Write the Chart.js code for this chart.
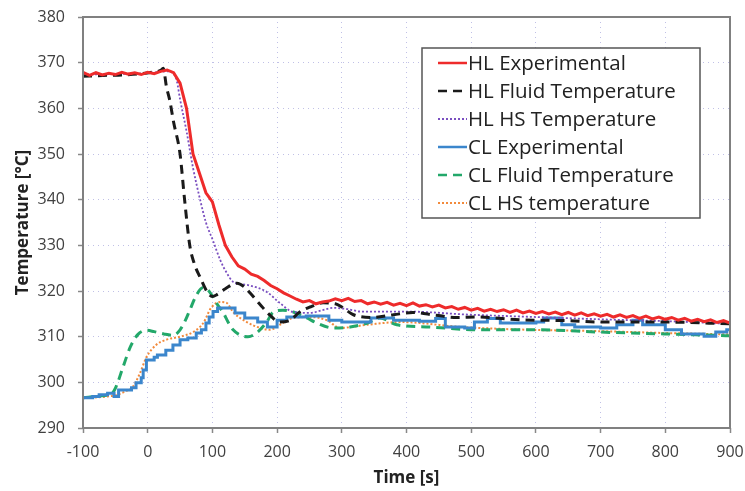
<!DOCTYPE html>
<html>
<head>
<meta charset="utf-8">
<script src="https://cdn.jsdelivr.net/npm/chart.js@4.4.0/dist/chart.umd.min.js"></script>
<style>
  body { margin: 0; background: #fff; }
  canvas { display: block; }
</style>
</head>
<body>
<canvas id="tempChart" width="745" height="491"></canvas>
<script>
// axis ranges
var timeMin = -100, timeMax = 900, timeStep = 100;
var tempMin = 290, tempMax = 380, tempStep = 10;

var seriesLabels = ["HL Experimental", "HL Fluid Temperature", "HL HS Temperature",
                    "CL Experimental", "CL Fluid Temperature", "CL HS temperature"];

// HL Experimental (noisy, read every 10 s)
var hlExpTime = [-100,-90,-80,-70,-60,-50,-40,-30,-20,-10,0,10,20,30,40,50,60,70,80,90,
  100,110,120,130,140,150,160,170,180,190,200,210,220,230,240,250,260,270,280,290,
  300,310,320,330,340,350,360,370,380,390,400,410,420,430,440,450,460,470,480,490,
  500,510,520,530,540,550,560,570,580,590,600,610,620,630,640,650,660,670,680,690,
  700,710,720,730,740,750,760,770,780,790,800,810,820,830,840,850,860,870,880,890,900];
var hlExpTemp = [367.9,367.2,367.8,367.3,367.7,367.4,367.9,367.5,367.8,367.4,367.9,367.6,368.1,368.4,367.8,365.5,360,350,345.8,341.5,
  339.5,334.5,330,327.5,325.5,324.8,323.7,323.2,322.3,321.2,320.5,319.6,318.9,318.2,317.6,317.9,317.2,317.6,317.8,318.3,
  317.9,318.4,317.7,317.9,317.2,317.6,317.1,317.5,316.9,317.3,316.8,317.4,316.7,317.0,316.5,316.9,316.3,316.6,316.0,316.4,
  315.8,316.2,315.6,316.0,315.5,315.9,315.3,315.8,315.2,315.6,315.1,315.5,315.0,315.4,314.8,315.3,314.7,315.2,314.6,315.0,
  314.5,314.9,314.3,314.8,314.2,314.6,314.0,314.5,313.9,314.3,313.8,314.2,313.6,314.0,313.4,313.8,313.3,313.7,313.1,313.5,313.0];

// HL Fluid Temperature
var hlFluidTime = [-100,-70,-40,-10,10,20,24,29,34,40,50,57,65,72,81,92,100,107,120,138,150,158,174,189,204,220,235,251,271,290,300,318,348,380,410,445,478,510,575,650,700,800,900];
var hlFluidTemp = [367,367.2,367.3,367.6,368,368.3,368.8,364.7,361.8,357,350,340,330,326,323,319.8,318.8,319.2,320.5,321.7,320.8,319.6,317,314.7,313.2,313.6,315.4,316.5,317.4,317.2,316.5,314.8,314.2,314.8,315.3,314.7,314.2,314.3,313.7,313.5,313.2,313.2,312.8];

// HL HS Temperature
var hlHsTime = [-100,-50,0,30,40,45,50,60,70,81,90,101,112,122,132,145,158,184,204,225,251,270,287,310,330,400,500,600,700,800,900];
var hlHsTemp = [367.4,367.5,367.7,368.1,367.6,366,362,355,347,340,335,331,326.8,324,322,321.5,321.2,319.8,317.4,315.4,315.2,315.8,316.3,316,315.5,315.5,314.8,314.3,313.8,313.4,312.8];

// CL Experimental (stepped)
var clExpTime = [-100,-85,-75,-62,-52,-45,-25,-18,-10,-7,-2,10,15,28,39,50,62,75,83,90,95,101,108,135,140,150,170,185,200,215,245,280,300,320,345,380,420,445,460,490,505,525,545,600,612,640,660,700,725,750,765,800,825,860,878,895,900];
var clExpTemp = [296.6,296.9,297.3,297.6,296.9,298.3,298.8,299.9,301,302.7,304.9,305.5,306,307,308.2,309.3,309.7,310.8,311.5,313,314.3,315.5,316.3,315.2,315.2,314.1,313.2,312.1,313.6,314.3,314.5,313.6,313.2,313.2,314.1,313.6,313.4,314,312.1,311.9,313.2,314,313,313.2,314.1,312.6,312.1,311.9,312.6,313.6,312.6,311.5,310.6,310.1,311,311.5,311.5];

// CL Fluid Temperature
var clFluidTime = [-100,-75,-55,-49,-38,-27,-15,-2,10,25,40,50,58,65,75,85,92,101,108,117,125,132,145,155,168,184,194,209,225,246,261,287,313,340,359,385,436,513,600,700,800,900];
var clFluidTemp = [296.6,297,297.6,299,303.4,307.7,310.5,311.4,311.1,310.6,310.3,311.5,313.5,315.8,319,320.7,320.4,318.7,317,315.2,313,311.5,310.2,310,310.8,313.2,315.4,315.8,315.4,314.1,313,311.9,312.1,313,314.1,312.6,312.1,311.5,311.5,311,310.6,310.2];

// CL HS temperature
var clHsTime = [-100,-70,-49,-35,-23,-12,-2,13,28,50,70,86,98,112,122,132,153,174,189,204,225,251,277,297,339,390,487,591,700,800,900];
var clHsTemp = [296.6,296.8,297.2,298,299,302,305.5,308.2,309.3,310,311,313,316.3,317.6,317.4,315.4,313.2,311.9,311.5,312.6,314.1,314.3,313.6,311.9,312.6,313.2,312.1,311.5,311.2,310.8,310.5];

function toPoints(times, temps) {
  var pts = [];
  for (var i = 0; i < times.length; ++i) {
    pts.push({x: times[i], y: temps[i]});
  }
  return pts;
}

var fontFamily = "'Open Sans', sans-serif";
var tickColor = "#404040";
var gridColor = "rgba(140,140,210,0.55)";

// legend box drawn inside the plot, like the original
var boxLegend = {
  id: "boxLegend",
  afterDraw: function (chart) {
    var ctx = chart.ctx;
    var x0 = 422, y0 = 48, x1 = 700, y1 = 218;
    ctx.save();
    ctx.fillStyle = "#fff";
    ctx.fillRect(x0, y0, x1 - x0, y1 - y0);
    ctx.strokeStyle = "#555";
    ctx.lineWidth = 1.5;
    ctx.strokeRect(x0, y0, x1 - x0, y1 - y0);
    ctx.font = "20.5px " + fontFamily;
    ctx.textBaseline = "middle";
    ctx.fillStyle = "#222";
    var ds = chart.data.datasets;
    for (var i = 0; i < ds.length; ++i) {
      var yy = 63 + i * 28;
      ctx.beginPath();
      ctx.setLineDash(ds[i].borderDash || []);
      ctx.strokeStyle = ds[i].borderColor;
      ctx.lineWidth = Math.min(ds[i].borderWidth, 2.5);
      ctx.moveTo(438, yy);
      ctx.lineTo(467, yy);
      ctx.stroke();
      ctx.setLineDash([]);
      ctx.fillText(ds[i].label, 468, yy + 1);
    }
    ctx.restore();
  }
};

// frame round the plot area
var plotFrame = {
  id: "plotFrame",
  afterDatasetsDraw: function (chart) {
    var a = chart.chartArea;
    var ctx = chart.ctx;
    ctx.save();
    ctx.strokeStyle = "#808080";
    ctx.lineWidth = 2;
    ctx.strokeRect(a.left, a.top, a.right - a.left, a.bottom - a.top);
    ctx.restore();
  }
};

var ctx = document.getElementById("tempChart");

var tempChart = new Chart(ctx, {
  type: "line",
  data: {
    datasets: [{
      label: seriesLabels[0],
      data: toPoints(hlExpTime, hlExpTemp),
      borderColor: "#ee2b2b",
      borderWidth: 3
    }, {
      label: seriesLabels[1],
      data: toPoints(hlFluidTime, hlFluidTemp),
      borderColor: "#1a1a1a",
      borderWidth: 3,
      borderDash: [9, 6],
      cubicInterpolationMode: "monotone"
    }, {
      label: seriesLabels[2],
      data: toPoints(hlHsTime, hlHsTemp),
      borderColor: "#7a4fc0",
      borderWidth: 1.8,
      borderDash: [2, 2],
      cubicInterpolationMode: "monotone"
    }, {
      label: seriesLabels[3],
      data: toPoints(clExpTime, clExpTemp),
      borderColor: "#3b86cc",
      borderWidth: 3,
      stepped: "before"
    }, {
      label: seriesLabels[4],
      data: toPoints(clFluidTime, clFluidTemp),
      borderColor: "#23a86a",
      borderWidth: 3,
      borderDash: [9, 6],
      cubicInterpolationMode: "monotone"
    }, {
      label: seriesLabels[5],
      data: toPoints(clHsTime, clHsTemp),
      borderColor: "#f28a3c",
      borderWidth: 2,
      borderDash: [2, 2],
      cubicInterpolationMode: "monotone"
    }]
  },
  options: {
    responsive: false,
    animation: false,
    layout: {padding: {left: 0, right: 15, top: 17, bottom: 0}},
    elements: {point: {radius: 0}},
    plugins: {legend: {display: false}, tooltip: {enabled: false}},
    scales: {
      x: {
        type: "linear",
        min: timeMin, max: timeMax,
        ticks: {stepSize: timeStep, padding: 10, color: tickColor, font: {family: fontFamily, size: 16}},
        grid: {color: gridColor, tickColor: "#888", tickLength: 5, tickWidth: 1.5, tickBorderDash: []},
        border: {display: false, dash: [1, 4]},
        title: {display: true, text: "Time [s]", color: "#222", padding: {top: 0, bottom: 3},
                font: {family: fontFamily, size: 17, weight: "bold"}},
        afterFit: function (scale) {
          scale.height = 63;
          scale.paddingLeft = 0;
          scale.paddingRight = 0;
        }
      },
      y: {
        min: tempMin, max: tempMax,
        ticks: {stepSize: tempStep, padding: 13, color: tickColor, font: {family: fontFamily, size: 16}},
        grid: {color: gridColor, tickColor: "#888", tickLength: 5, tickWidth: 1.5, tickBorderDash: []},
        border: {display: false, dash: [1, 4]},
        title: {display: true, text: "Temperature [°C]", color: "#222", padding: {top: 13, bottom: 0},
                font: {family: fontFamily, size: 17, weight: "bold"}},
        afterFit: function (scale) {
          scale.width = 83;
          scale.paddingTop = 0;
          scale.paddingBottom = 0;
        }
      }
    }
  },
  plugins: [plotFrame, boxLegend]
});
</script>
</body>
</html>
